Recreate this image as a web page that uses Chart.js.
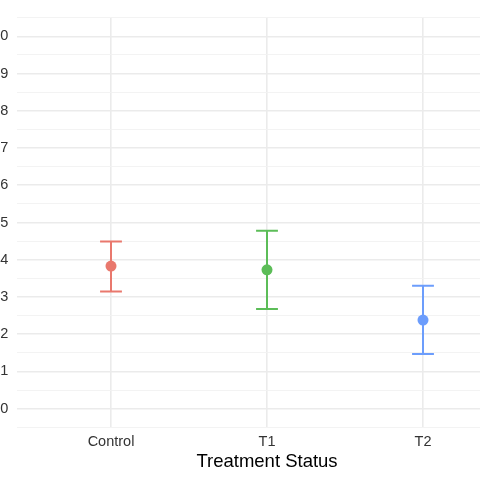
<!DOCTYPE html>
<html>
<head>
<meta charset="utf-8">
<script src="https://cdn.jsdelivr.net/npm/chart.js@4"></script>
<style>
  html, body { margin: 0; padding: 0; background: #fff; overflow: hidden; }
  #wrap { position: absolute; left: -23px; top: 0; width: 560px; height: 480px; }
</style>
</head>
<body>
<div id="wrap"><canvas id="chart" width="560" height="480"></canvas></div>
<script>
// data
const categories = ['Control', 'T1', 'T2'];
const means = [3.83, 3.73, 2.38];
const lower = [3.15, 2.68, 1.47];
const upper = [4.49, 4.78, 3.30];
const yTicks = [0, 1, 2, 3, 4, 5, 6, 7, 8, 9, 10];

const colors = ['#E9786D', '#5CBD58', '#6C9DFC'];
const gridMajor = '#EBEBEB';
const gridMinor = '#F2F2F2';

// draws vertical error bars with caps, behind the points
const errorBars = {
  id: 'errorBars',
  beforeDatasetsDraw(chart, args, opts) {
    const { ctx, scales: { x, y } } = chart;
    ctx.save();
    ctx.lineWidth = opts.lineWidth;
    categories.forEach((c, i) => {
      const px = x.getPixelForValue(i + 1);
      const x0 = x.getPixelForValue(i + 1 - opts.halfWidth);
      const x1 = x.getPixelForValue(i + 1 + opts.halfWidth);
      const yLo = y.getPixelForValue(lower[i]);
      const yHi = y.getPixelForValue(upper[i]);
      ctx.strokeStyle = colors[i];
      ctx.beginPath();
      ctx.moveTo(px, yLo); ctx.lineTo(px, yHi);
      ctx.moveTo(x0, yLo); ctx.lineTo(x1, yLo);
      ctx.moveTo(x0, yHi); ctx.lineTo(x1, yHi);
      ctx.stroke();
    });
    ctx.restore();
  }
};

const ctx = document.getElementById('chart').getContext('2d');
new Chart(ctx, {
  type: 'scatter',
  data: {
    datasets: [{
      data: categories.map((c, i) => ({ x: i + 1, y: means[i] })),
      pointBackgroundColor: colors,
      pointBorderWidth: 0,
      pointRadius: 5.5
    }]
  },
  options: {
    responsive: false,
    animation: false,
    devicePixelRatio: 1,
    layout: { padding: { left: 0, right: 20.4, top: 17.3, bottom: 0 } },
    plugins: {
      legend: { display: false },
      tooltip: { enabled: false },
      errorBars: { lineWidth: 2, halfWidth: 0.07 }
    },
    scales: {
      x: {
        type: 'linear',
        min: 0.4,
        max: 3.6,
        afterBuildTicks: (scale) => {
          scale.ticks = categories.map((c, i) => ({ value: i + 1 }));
        },
        afterFit: (scale) => { scale.height = 52.7; },
        border: { display: false },
        grid: { color: gridMajor, lineWidth: 1.6, drawTicks: false },
        ticks: {
          padding: 6.3,
          color: '#333',
          font: { family: 'Liberation Sans', size: 14.5 },
          callback: (v) => categories[Math.round(v) - 1] || ''
        },
        title: {
          display: true,
          text: 'Treatment Status',
          color: '#000',
          font: { family: 'Liberation Sans', size: 18.5 },
          padding: { top: 0, bottom: 6.9 }
        }
      },
      y: {
        min: -0.5,
        max: 10.5,
        afterBuildTicks: (scale) => {
          const t = [];
          yTicks.forEach((v) => t.push({ value: v - 0.5 }, { value: v }));
          t.push({ value: yTicks[yTicks.length - 1] + 0.5 });
          scale.ticks = t;
        },
        afterFit: (scale) => { scale.width = 40.4; },
        border: { display: false },
        grid: {
          drawTicks: false,
          color: (c) => Number.isInteger(c.tick.value) ? gridMajor : gridMinor,
          lineWidth: (c) => Number.isInteger(c.tick.value) ? 1.6 : 0.9
        },
        ticks: {
          autoSkip: false,
          padding: 9,
          color: '#333',
          font: { family: 'Liberation Sans', size: 14.5 },
          callback: (v) => Number.isInteger(v) ? String(v) : ''
        }
      }
    }
  },
  plugins: [errorBars]
});
</script>
</body>
</html>
